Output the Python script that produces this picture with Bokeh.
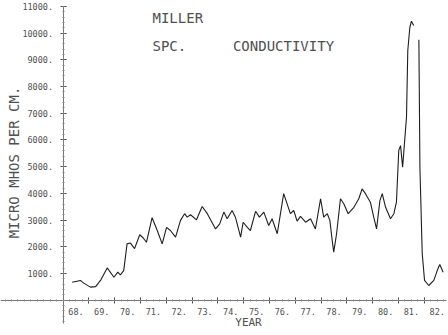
import numpy as np
from bokeh.plotting import figure
from bokeh.models import LinearAxis, FixedTicker, Range1d, Label
from bokeh.embed import file_html
from bokeh.resources import INLINE

# Specific conductance, Miller station (micro mhos per cm), by decimal year (19xx)
year = [68.35, 68.67, 68.80, 69.06, 69.26, 69.45, 69.71, 69.97, 70.12, 70.22,
        70.35, 70.48, 70.61, 70.77, 70.97, 71.10, 71.23, 71.45, 71.65, 71.84,
        72.01, 72.16, 72.36, 72.55, 72.71, 72.81, 72.94, 73.17, 73.39, 73.59,
        73.91, 74.07, 74.23, 74.36, 74.55, 74.68, 74.88, 74.98, 75.14, 75.26,
        75.46, 75.61, 75.78, 75.97, 76.10, 76.30, 76.55, 76.81, 76.94, 77.07,
        77.20, 77.40, 77.59, 77.78, 77.98, 78.10, 78.24, 78.34, 78.43, 78.49,
        78.60, 78.75, 78.88, 79.05, 79.27, 79.46, 79.59, 79.72, 79.91, 80.04,
        80.15, 80.28, 80.37, 80.50, 80.69, 80.82, 80.92, 81.01, 81.08, 81.16,
        81.21, 81.31, 81.36, 81.44, 81.50, 81.59, np.nan, 81.79, 81.83, 81.92,
        82.01, 82.17, 82.37, 82.50, 82.60, 82.73]
conductivity = [670, 740, 640, 490, 510, 740, 1210, 860, 1050, 950,
                1110, 2110, 2140, 1930, 2450, 2340, 2170, 3090, 2610, 2110,
                2730, 2610, 2360, 2990, 3240, 3110, 3200, 3010, 3510, 3240,
                2670, 2860, 3300, 3050, 3360, 3110, 2360, 2920, 2730, 2610,
                3330, 3110, 3300, 2800, 3050, 2490, 3990, 3240, 3360, 2960,
                3140, 2920, 3050, 2670, 3800, 3110, 3240, 2990, 2240, 1800,
                2490, 3800, 3610, 3240, 3480, 3800, 4170, 3990, 3670, 3110,
                2670, 3730, 3990, 3480, 3050, 3240, 3670, 5610, 5790, 4980,
                5610, 6850, 9350, 10220, 10450, 10290, np.nan, 9750, 4980, 1740,
                740, 550, 740, 1110, 1340, 1050]

year_ticks = list(range(68, 83))
year_labels = [f"{y}." for y in year_ticks]
value_ticks = list(range(1000, 11001, 1000))
value_labels = [f"{v}." for v in value_ticks]

INK = "#505050"
MONO = "DejaVu Sans Mono"

p = figure(width=448, height=335, output_backend="svg", toolbar_location=None,
           x_range=Range1d(65.574, 82.938), y_range=Range1d(-1322, 11224),
           x_axis_type=None, y_axis_type=None, min_border=0,
           outline_line_color=None, background_fill_color="white")

# vertical value axis, crossing the year axis at 1968
yax = LinearAxis(fixed_location=68, bounds=(-870, 11000),
                 ticker=FixedTicker(ticks=value_ticks,
                                    minor_ticks=list(range(-800, 11001, 200))),
                 major_label_overrides=dict(zip(value_ticks, value_labels)))
yax.axis_line_color = "#777"
yax.major_tick_line_color = "#444"
yax.major_tick_in = 3
yax.major_tick_out = 3
yax.minor_tick_line_color = "#888"
yax.minor_tick_in = 1
yax.minor_tick_out = 1
yax.major_label_standoff = 7
yax.major_label_text_font = MONO
yax.major_label_text_font_size = "8.5px"
yax.major_label_text_color = INK
p.add_layout(yax, "left")

# year axis at zero, with tick crosses at the start of each year
xax = LinearAxis(fixed_location=0, bounds=(65.58, 82.85),
                 ticker=FixedTicker(ticks=year_ticks,
                                    minor_ticks=list(np.arange(65.75, 82.85, 0.25))))
xax.axis_line_color = "#777"
xax.major_tick_line_color = "#444"
xax.major_tick_in = 3
xax.major_tick_out = 3
xax.minor_tick_line_color = "#888"
xax.minor_tick_in = 1
xax.minor_tick_out = 1
xax.major_label_text_color = None
p.add_layout(xax, "below")

# year names centred inside each year
mid = [y + 0.5 for y in year_ticks]
xlab = LinearAxis(fixed_location=0, ticker=FixedTicker(ticks=mid, minor_ticks=[]),
                  major_label_overrides=dict(zip(mid, year_labels)))
xlab.axis_line_color = None
xlab.major_tick_line_color = None
xlab.minor_tick_line_color = None
xlab.major_label_standoff = 2
xlab.major_label_text_font = MONO
xlab.major_label_text_font_size = "8.5px"
xlab.major_label_text_color = INK
p.add_layout(xlab, "below")

p.line(year, conductivity, line_color="#1e1e1e", line_width=1.1)

def note(text, sx, sy, size, align="left", angle=0.0):
    p.add_layout(Label(x=sx, y=335 - sy, x_units="screen", y_units="screen",
                       text=text, text_font=MONO, text_font_size=size,
                       text_color=INK, text_align=align, text_baseline="middle",
                       angle=angle))

note("MILLER", 152, 17, "14px")
note("SPC.", 152, 45, "14px")
note("CONDUCTIVITY", 283, 45, "14px", align="center")
note("YEAR", 248, 322, "11px", align="center")
note("MICRO MHOS PER CM.", 13, 162, "14px", align="center", angle=np.pi / 2)

open("out.html", "w").write(file_html(p, INLINE))
